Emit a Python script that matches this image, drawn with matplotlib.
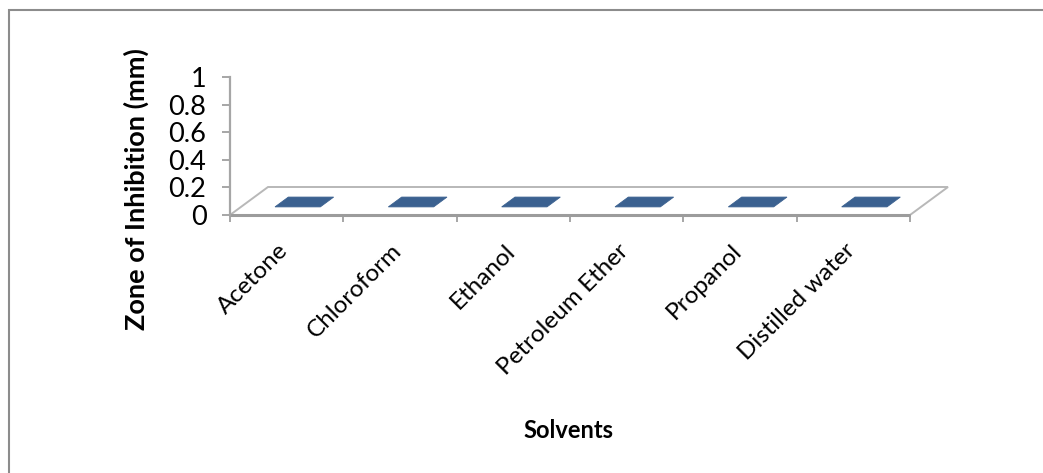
import matplotlib
matplotlib.use('Agg')
import matplotlib.pyplot as plt
from matplotlib.patches import Polygon, Rectangle
from matplotlib.transforms import ScaledTranslation

# Zone of inhibition per extraction solvent (mm)
solvents = ['Acetone', 'Chloroform', 'Ethanol', 'Petroleum Ether', 'Propanol', 'Distilled water']
inhibition = [0, 0, 0, 0, 0, 0]
y_ticks = [0, 0.2, 0.4, 0.6, 0.8, 1]
y_tick_labels = ['0', '0.2', '0.4', '0.6', '0.8', '1']

plt.rcParams['font.family'] = ['Lato', 'DejaVu Sans']

W, H = 1043, 473
fig = plt.figure(figsize=(W / 100, H / 100), dpi=100)
ax = fig.add_axes([230 / W, (H - 215) / H, 680 / W, 138 / H])

n = len(solvents)
ax.set_xlim(0, n)
ax.set_ylim(0, 1)

# depth of the 3-D floor, in data units
dx = 38 / 680 * n
dy = 28 / 138
bar_w = 0.4
f0, f1 = 0.29, 0.64

edge = '#a6a6a6'
bar_col = '#3b6190'

# floor
floor = Polygon([(0, 0), (n, 0), (n + dx, dy), (dx, dy)], closed=True,
                facecolor='white', edgecolor='#b8b8b8', linewidth=1.4,
                clip_on=False, zorder=1)
ax.add_patch(floor)
ax.plot([0, n], [0, 0], color='#9c9c9c', linewidth=2.2, clip_on=False, zorder=2,
        solid_capstyle='butt')

# bars (front face, side face, top face)
for i, v in enumerate(inhibition):
    c = i + 0.5
    x0, x1 = c - bar_w / 2, c + bar_w / 2
    front = [(x0 + f0 * dx, f0 * dy), (x1 + f0 * dx, f0 * dy),
             (x1 + f0 * dx, v + f0 * dy), (x0 + f0 * dx, v + f0 * dy)]
    side = [(x1 + f0 * dx, f0 * dy), (x1 + f1 * dx, f1 * dy),
            (x1 + f1 * dx, v + f1 * dy), (x1 + f0 * dx, v + f0 * dy)]
    top = [(x0 + f0 * dx, v + f0 * dy), (x1 + f0 * dx, v + f0 * dy),
           (x1 + f1 * dx, v + f1 * dy), (x0 + f1 * dx, v + f1 * dy)]
    if v > 0:
        ax.add_patch(Polygon(front, closed=True, facecolor=bar_col, linewidth=0, zorder=3))
        ax.add_patch(Polygon(side, closed=True, facecolor='#2c4a70', linewidth=0, zorder=3))
    ax.add_patch(Polygon(top, closed=True, facecolor=bar_col, edgecolor=bar_col,
                         linewidth=0.6, zorder=4))

# axes styling
for s in ['top', 'right', 'bottom']:
    ax.spines[s].set_visible(False)
ax.spines['left'].set_color(edge)
ax.spines['left'].set_linewidth(1.6)
ax.spines['left'].set_zorder(5)

ax.set_yticks(y_ticks, y_tick_labels)
ax.tick_params(axis='y', direction='out', length=6, width=1.4, color=edge,
               labelsize=19.5, pad=11, labelcolor='black')

ax.set_xticks(range(n + 1), [''] * (n + 1))
ax.tick_params(axis='x', which='major', direction='out', length=5, width=1.4, color=edge)

# rotated category labels
label_tf = ax.get_xaxis_transform() + ScaledTranslation(-9 / 100, -25 / 100, fig.dpi_scale_trans)
for i, name in enumerate(solvents):
    ax.text(i + 0.5, 0, name, transform=label_tf, rotation=45, ha='right', va='top',
            rotation_mode='anchor', fontsize=17.5)

ax.patch.set_visible(False)

fig.text(136 / W, 1 - 189 / H, 'Zone of Inhibition (mm)', rotation=90,
         ha='center', va='center', fontsize=19.5, fontweight='bold')
fig.text(568 / W, 1 - 430 / H, 'Solvents', ha='center', va='center',
         fontsize=17, fontweight='bold')

# chart area border
fig.patches.append(Rectangle((8.5 / W, -0.2), 1.2, 1.2 - 10.5 / H,
                             transform=fig.transFigure, fill=False,
                             edgecolor='#8c8c8c', linewidth=1.5))

fig.savefig('out.png', dpi=100)
